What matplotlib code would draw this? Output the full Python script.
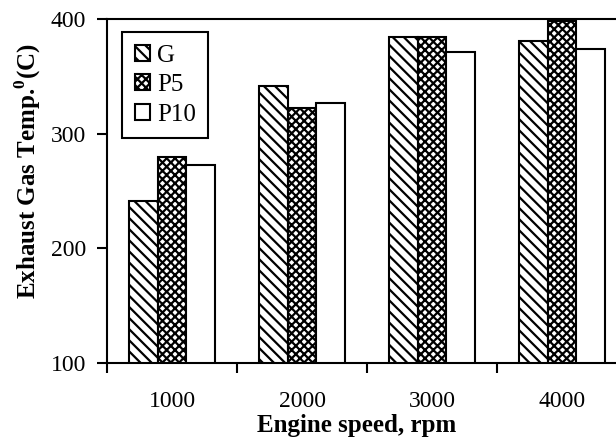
import numpy as np
import matplotlib
matplotlib.use('Agg')
import matplotlib.pyplot as plt

plt.rcParams['font.family'] = 'Liberation Serif'
plt.rcParams['mathtext.fontset'] = 'custom'
plt.rcParams['mathtext.rm'] = 'Liberation Serif'
plt.rcParams['mathtext.bf'] = 'Liberation Serif:bold'
plt.rcParams['hatch.linewidth'] = 1.6

speeds = ['1000', '2000', '3000', '4000']
series = ['G', 'P5', 'P10']
temp_g = [241, 342, 384, 381]
temp_p5 = [280, 322, 384, 398]
temp_p10 = [273, 327, 371, 374]

hatches = ['\\\\\\', 'xxxx', '']

fig = plt.figure(figsize=(6.16, 4.44), dpi=100)
ax = fig.add_axes([107 / 616, 1 - 363 / 444, 520 / 616, 344 / 444])

x = np.arange(len(speeds))
w = 0.222
for i, (name, vals) in enumerate(zip(series, [temp_g, temp_p5, temp_p10])):
    ax.bar(x + (i - 1) * w, vals, w, bottom=0, color='white', edgecolor='black',
           linewidth=1.5, hatch=hatches[i], label=name, zorder=2)

ax.set_ylim(100, 400)
ax.set_xlim(-0.5, 3.5)
ax.set_yticks([100, 200, 300, 400])
ax.set_xticks(np.arange(-0.5, 4.0, 1.0))
ax.set_xticklabels([])
ax.set_xticks(x, minor=True)
ax.set_xticklabels(speeds, minor=True)
ax.tick_params(axis='x', which='major', direction='out', length=7, width=1.5)
ax.tick_params(axis='x', which='minor', length=0, pad=20, labelsize=17)
ax.tick_params(axis='y', direction='out', length=7, width=1.5, pad=8, labelsize=17)
for s in ax.spines.values():
    s.set_linewidth(1.5)

ax.set_xlabel('Engine speed, rpm', fontsize=18, fontweight='bold')
ax.xaxis.set_label_coords(0.481, -(414 - 363) / 344)
ax.set_ylabel(r'Exhaust Gas Temp.$^{\mathbf{0}}$(C)', fontsize=18, fontweight='bold')
ax.yaxis.set_label_coords(-(107 - 43) / 520, 1 - (171 - 19) / 344)

leg = ax.legend(loc='upper left', bbox_to_anchor=(0.029, 0.962), fontsize=18,
                fancybox=False, edgecolor='black', framealpha=1, borderaxespad=0,
                handlelength=0.6, handleheight=0.6, handletextpad=0.3,
                borderpad=0.5, labelspacing=0.3)
leg.get_frame().set_linewidth(1.5)

fig.savefig('out.png', dpi=100)
